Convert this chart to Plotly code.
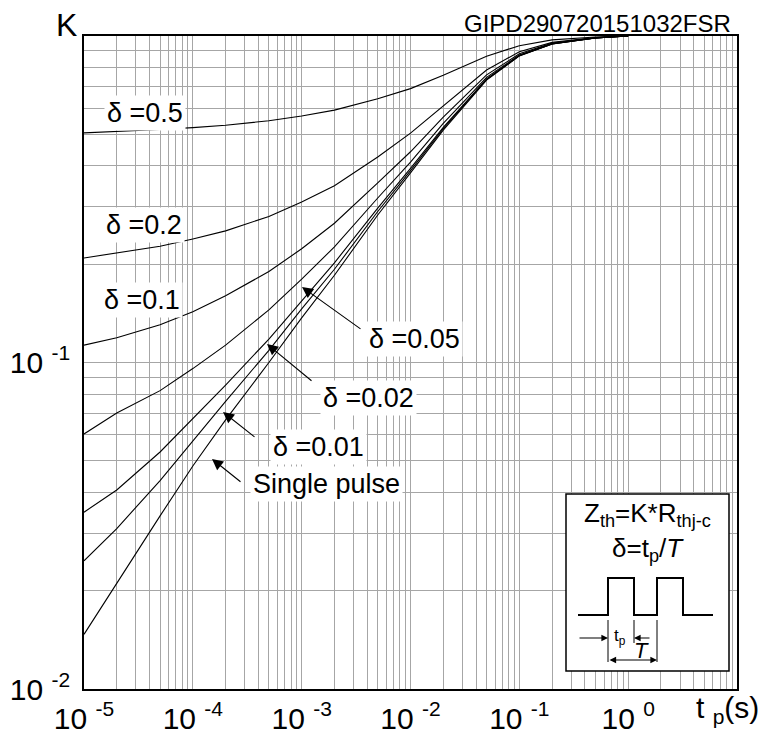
import plotly.graph_objects as go

# ---------------- data ----------------
tp = [1e-5, 2e-5, 5e-5, 1e-4, 2e-4, 5e-4, 1e-3, 2e-3, 5e-3,
      1e-2, 2e-2, 5e-2, 0.1, 0.2, 0.5, 1.0]

k_single = [0.0147, 0.0211, 0.0339, 0.0482, 0.0667, 0.100, 0.137, 0.185, 0.283,
            0.381, 0.515, 0.733, 0.869, 0.945, 0.986, 1.0]
k_d001 = [0.0247, 0.0310, 0.0435, 0.0577, 0.0760, 0.109, 0.146, 0.193, 0.290,
          0.387, 0.520, 0.736, 0.870, 0.946, 0.986, 1.0]
k_d002 = [0.0348, 0.0407, 0.0532, 0.0672, 0.0853, 0.118, 0.154, 0.202, 0.297,
          0.393, 0.525, 0.739, 0.871, 0.946, 0.986, 1.0]
k_d005 = [0.0604, 0.0700, 0.0820, 0.0958, 0.113, 0.145, 0.180, 0.226, 0.319,
          0.411, 0.540, 0.747, 0.875, 0.948, 0.987, 1.0]
k_d01 = [0.113, 0.119, 0.1305, 0.143, 0.160, 0.190, 0.223, 0.267, 0.355,
         0.442, 0.564, 0.760, 0.882, 0.951, 0.987, 1.0]
k_d02 = [0.209, 0.217, 0.227, 0.239, 0.253, 0.280, 0.310, 0.348, 0.426,
         0.504, 0.612, 0.787, 0.895, 0.956, 0.989, 1.0]
k_d05 = [0.505, 0.509, 0.517, 0.524, 0.533, 0.550, 0.569, 0.593, 0.642,
         0.690, 0.758, 0.867, 0.934, 0.973, 0.993, 1.0]

series_names = ["Single pulse", "δ =0.01", "δ =0.02", "δ =0.05", "δ =0.1", "δ =0.2", "δ =0.5"]
series_values = [k_single, k_d001, k_d002, k_d005, k_d01, k_d02, k_d05]

x_tickvals = [1e-5, 1e-4, 1e-3, 1e-2, 1e-1, 1e0]
x_ticktext = ["10 <sup>-5</sup>", "10 <sup>-4</sup>", "10 <sup>-3</sup>",
              "10 <sup>-2</sup>", "10 <sup>-1</sup>", "10 <sup>0</sup>"]
y_tickvals = [1e-2, 1e-1]
y_ticktext = ["10 <sup>-2</sup>", "10 <sup>-1</sup>"]

# ---------------- layout helpers ----------------
PAGE_OFF = 8                     # default body margin of the html page
W, H = 769 - PAGE_OFF, 734 - PAGE_OFF
L, R, T, B = 84, 737, 36, 689    # plot box in window pixels
PW, PH = R - L, B - T


def px(x):
    return (x - L) / PW


def py(y):
    return (B - y) / PH


FONT = "Arial, Liberation Sans, sans-serif"

fig = go.Figure()
for name, vals in zip(series_names, series_values):
    fig.add_trace(go.Scatter(x=tp, y=vals, mode="lines", name=name,
                             line=dict(color="black", width=1.1),
                             showlegend=False, hoverinfo="skip"))

x_minor = [m * 10.0 ** e for e in range(-5, 1) for m in range(2, 10)]
y_minor = [m * 10.0 ** e for e in range(-2, 0) for m in range(2, 10)]

grid_col = "#a6a6a6"
fig.update_xaxes(type="log", range=[-5, 1], tickmode="array",
                 tickvals=x_tickvals, ticktext=x_ticktext,
                 showgrid=True, gridcolor=grid_col, gridwidth=1,
                 minor=dict(tickmode="array", tickvals=x_minor, showgrid=True,
                            gridcolor=grid_col, gridwidth=1, ticks=""),
                 ticks="", showline=True, linecolor="black", linewidth=1.5,
                 mirror=True, zeroline=False, automargin=False,
                 tickfont=dict(family=FONT, size=30, color="black"),
                 ticklabelstandoff=2)
fig.update_yaxes(type="log", range=[-2, 0], tickmode="array",
                 tickvals=y_tickvals, ticktext=y_ticktext,
                 showgrid=True, gridcolor=grid_col, gridwidth=1,
                 minor=dict(tickmode="array", tickvals=y_minor, showgrid=True,
                            gridcolor=grid_col, gridwidth=1, ticks=""),
                 ticks="", showline=True, linecolor="black", linewidth=1.5,
                 mirror=True, zeroline=False, automargin=False,
                 tickfont=dict(family=FONT, size=30, color="black"),
                 ticklabelstandoff=6)

ann = []


def text(x, y, s, size=27, bg=None, xanchor="center", yanchor="middle"):
    d = dict(x=px(x), y=py(y), xref="paper", yref="paper", text=s, showarrow=False,
             xanchor=xanchor, yanchor=yanchor,
             font=dict(family=FONT, size=size, color="black"))
    if bg:
        d["bgcolor"] = bg
        d["borderpad"] = 2
    ann.append(d)


def arrow(tipx, tipy, tailx, taily, size=2.0, side="end", head=2):
    ann.append(dict(x=px(tipx), y=py(tipy), xref="paper", yref="paper", text="",
                    showarrow=True, ax=tailx - tipx, ay=taily - tipy,
                    axref="pixel", ayref="pixel",
                    arrowhead=head, arrowsize=size, arrowwidth=1.1,
                    arrowcolor="black", arrowside=side, startarrowhead=head,
                    startarrowsize=size, standoff=0, startstandoff=0))


# Axis titles / id
text(66, 25, "K", size=32)
text(733, 24, "GIPD290720151032FSR", size=24, xanchor="right")
text(727, 709, "t <sub>p</sub>(s)", size=30)

# Curve labels
text(145, 113, "δ =0.5", bg="white")
text(144, 225, "δ =0.2", bg="white")
text(142, 300, "δ =0.1", bg="white")
text(414, 339, "δ =0.05", bg="white")
text(368, 398, "δ =0.02", bg="white")
text(318, 447, "δ =0.01", bg="white")
text(326, 484, "Single pulse", bg="white")

arrow(302, 287, 362, 330)
arrow(267, 344, 313, 382)
arrow(223, 412, 256, 438)
arrow(212, 459, 242, 483)

# Inset box
shapes = [dict(type="rect", xref="paper", yref="paper",
               x0=px(566), x1=px(729), y0=py(671), y1=py(494),
               line=dict(color="black", width=1.5), fillcolor="white", layer="above")]
pulse = [(578, 615), (608, 615), (608, 578), (634, 578), (634, 615), (657, 615),
         (657, 578), (683, 578), (683, 615), (713, 615)]
path = "M " + " L ".join(f"{px(a):.5f},{py(b):.5f}" for a, b in pulse)
shapes.append(dict(type="path", xref="paper", yref="paper", path=path,
                   line=dict(color="black", width=2), layer="above"))
for xv, y0, y1 in [(608, 620, 662), (634, 620, 643), (657, 620, 662)]:
    shapes.append(dict(type="line", xref="paper", yref="paper",
                       x0=px(xv), x1=px(xv), y0=py(y0), y1=py(y1),
                       line=dict(color="black", width=1), layer="above"))

text(647, 514, "Z<sub>th</sub>=K*R<sub>thj-c</sub>", size=26)
text(648, 549, "δ=t<sub>p</sub>/<i>T</i>", size=26)
text(620, 637, "t<sub>p</sub>", size=17)
text(641, 650, "<i>T</i>", size=22)
arrow(608, 638, 578, 638, size=1.2)
arrow(634, 638, 651, 638, size=1.2)
arrow(657, 660, 608, 660, size=1.2, side="end+start")

fig.update_layout(width=W, height=H,
                  margin=dict(l=L - PAGE_OFF, r=769 - R, t=T - PAGE_OFF, b=734 - B),
                  paper_bgcolor="white", plot_bgcolor="white",
                  annotations=ann, shapes=shapes,
                  font=dict(family=FONT, color="black"))

fig.write_html("out.html")
